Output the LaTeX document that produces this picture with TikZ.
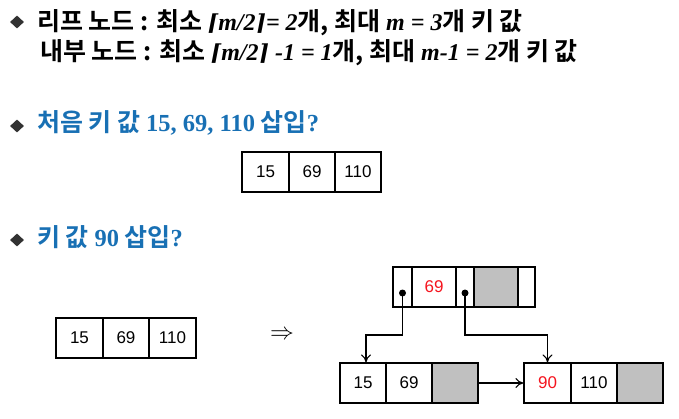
\documentclass[tikz,border=0pt]{standalone}
\usepackage{fontspec}
\setmainfont{Liberation Sans}
\newfontfamily\kor{Noto Sans CJK KR Bold}
\newfontfamily\tms{Liberation Serif}
\newfontfamily\brk{DejaVu Serif}
\usetikzlibrary{shapes.geometric}
\usetikzlibrary{arrows.meta}

\definecolor{headblue}{RGB}{24,112,180}
\definecolor{keygray}{RGB}{192,192,192}
\definecolor{bulletgray}{RGB}{50,50,50}
\definecolor{keyred}{RGB}{245,20,30}

% Times bold (italic) pieces inside the korean lines
\newcommand{\latit}[1]{{\tms\bfseries\itshape\fontsize{24}{26}\selectfont #1}}
\newcommand{\latbf}[1]{{\tms\bfseries\fontsize{24.5}{26}\selectfont #1}}
\newcommand{\ceilm}{{\brk\bfseries\itshape\fontsize{22}{26}\selectfont ⌈}\latit{m/2}{\brk\bfseries\itshape\fontsize{22}{26}\selectfont ⌉}}

\begin{document}
\begin{tikzpicture}[x=1pt,y=-1pt]

	\tikzset{cell/.style={draw, line width=1.1pt, minimum height=40, inner sep=0, font=\fontsize{17}{20}\selectfont}}
	\tikzset{bullet/.style={diamond, fill=bulletgray, minimum width=14, minimum height=13, inner sep=0}}
	\tikzset{title/.style={anchor=base west, inner sep=0, font=\kor\fontsize{25}{26}\selectfont}}
	\tikzset{link/.style={line width=1.1pt, -{To[length=8pt,width=10pt]}}}

	\useasboundingbox (0,0) rectangle (679,419);

	% rules for the order-3 tree
	\node[bullet] (b1) at (17,22) {};
	\node[title] (rule1) at (37,31) {리프 노드 : 최소 \ceilm\latit{= 2}개, 최대 \latit{m = 3}개 키 값};
	\node[title] (rule2) at (40,61) {내부 노드 : 최소 \ceilm\latit{ -1 = 1}개, 최대 \latit{m-1 = 2}개 키 값};

	% first insertion
	\node[bullet] (b2) at (17,126) {};
	\node[title, text=headblue] (head1) at (37,132) {처음 키 값 \latbf{15, 69, 110} 삽입\latbf{?}};

	\node[cell, minimum width=47] (a1) at (265.5,172) {15};
	\node[cell, minimum width=46] (a2) at (312,172) {69};
	\node[cell, minimum width=46] (a3) at (358,172) {110};

	% second insertion
	\node[bullet] (b3) at (17,240) {};
	\node[title, text=headblue] (head2) at (37,247) {키 값 \latbf{90} 삽입\latbf{?}};

	\node[cell, minimum width=47] (c1) at (79.5,338) {15};
	\node[cell, minimum width=46] (c2) at (126,338) {69};
	\node[cell, minimum width=47] (c3) at (172.5,338) {110};

	\node[font=\fontsize{20}{24}\selectfont] (then) at (282,335) {\scalebox{1.15}{$\Rightarrow$}};

	% root node after the split
	\node[cell, minimum width=19] (p1) at (402.5,287) {};
	\node[cell, minimum width=44, text=keyred] (k1) at (434,287) {69};
	\node[cell, minimum width=18] (p2) at (465,287) {};
	\node[cell, minimum width=44, fill=keygray] (k2) at (496,287) {};
	\node[cell, minimum width=17] (p3) at (526.5,287) {};

	% leaf nodes
	\node[cell, minimum width=46] (l1a) at (363,383) {15};
	\node[cell, minimum width=46] (l1b) at (409,383) {69};
	\node[cell, minimum width=46, fill=keygray] (l1c) at (455,383) {};

	\node[cell, minimum width=47, text=keyred] (l2a) at (547.5,383) {90};
	\node[cell, minimum width=46] (l2b) at (594,383) {110};
	\node[cell, minimum width=46, fill=keygray] (l2c) at (640,383) {};

	% child pointers
	\coordinate (d1) at ([yshift=-6]p1.center);
	\coordinate (d2) at ([yshift=-6]p2.center);
	\fill (d1) circle (3.5);
	\fill (d2) circle (3.5);
	\draw[link] (d1) -- ++(0,42) -| ([xshift=3]l1a.north);
	\draw[link] (d2) -- ++(0,42) -| (l2a.north);

	% leaf chain
	\draw[link] (l1c.east) -- (l2a.west);

\end{tikzpicture}
\end{document}
